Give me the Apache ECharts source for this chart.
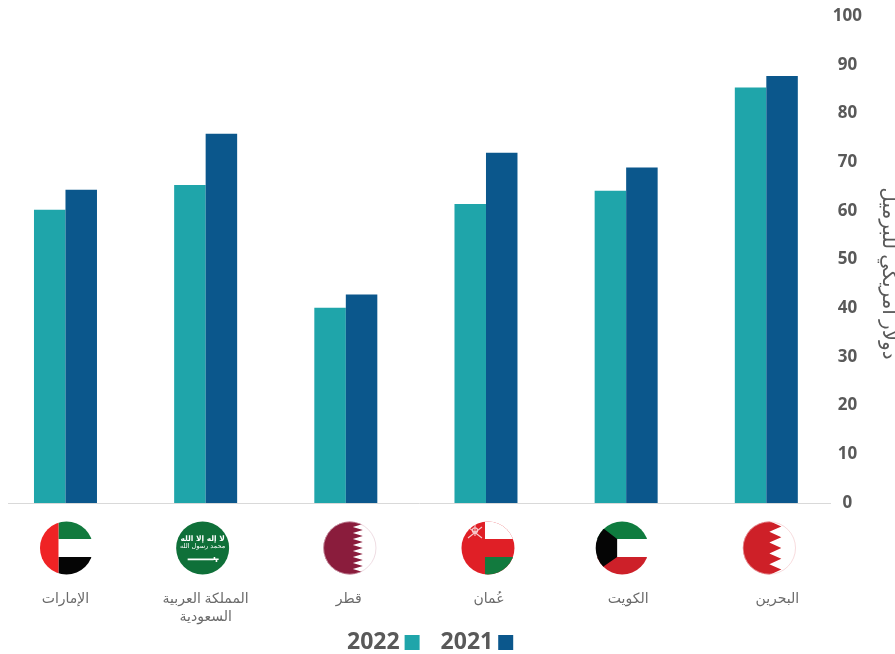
<!DOCTYPE html>
<html lang="ar">
<head>
<meta charset="utf-8">
<style>html,body{margin:0;padding:0;background:#fff}#chart{width:895px;height:654px}</style>
<script src="https://cdn.jsdelivr.net/npm/echarts@6/dist/echarts.min.js"></script>
</head>
<body>
<div id="chart"></div>
<script>
// Oil price by Gulf state, ordered as on the axis
const countries = ['الإمارات', 'المملكة العربية\nالسعودية', 'قطر', 'عُمان', 'الكويت', 'البحرين'];
const values2022 = [60.2, 65.3, 40.1, 61.4, 64.1, 85.3];
const values2021 = [64.3, 75.8, 42.8, 71.9, 68.9, 87.7];
const yTicks = { min: 0, max: 100, interval: 10 };
const seriesNames = ['2022', '2021'];
const axisTitle = 'دولار امريكي للبرميل';

// Horizontal nudges from each category centre
const labelShift = [0, 0, 3, 3, 2, 11];
const flagShift = [1, -3, 4, 2, -4, 3];

const FONT = '"Open Sans","Noto Sans","DejaVu Sans",sans-serif';
const ARABIC_FONT = '"Noto Sans","DejaVu Sans",sans-serif';

// Round flag badges: 54px box with a circle of radius 26.5
function badge(body, ring) {
  const edge = ring ? `<circle cx="27" cy="27" r="26.2" fill="none" stroke="${ring}" stroke-width=".6"/>` : '';
  const svg = `<svg xmlns="http://www.w3.org/2000/svg" width="54" height="54" viewBox="0 0 54 54">` +
    `<defs><clipPath id="c"><circle cx="27" cy="27" r="26.5"/></clipPath></defs>` +
    `<g clip-path="url(#c)">${body}</g>${edge}</svg>`;
  return 'data:image/svg+xml;charset=utf-8,' + encodeURIComponent(svg);
}
function serrated(color, base, tip, teeth) {
  const step = 54 / teeth;
  let pts = `0,0 ${base},0`;
  for (let i = 0; i < teeth; i++) {
    pts += ` ${tip},${(i + 0.5) * step} ${base},${(i + 1) * step}`;
  }
  pts += ' 0,54';
  return `<polygon points="${pts}" fill="${color}"/>`;
}
const flags = [
  badge('<rect width="54" height="18" x="19" fill="#127a3e"/><rect x="19" y="36" width="35" height="18" fill="#050505"/><rect width="19" height="54" fill="#ef2325"/>'),
  badge('<rect width="54" height="54" fill="#0f7039"/>' +
    '<text x="27" y="19.5" text-anchor="middle" font-family="DejaVu Sans" font-size="7.5" font-weight="bold" fill="#fff">لا إله إلا الله</text>' +
    '<text x="27" y="26.5" text-anchor="middle" font-family="DejaVu Sans" font-size="6.5" fill="#fff">محمد رسول الله</text>' +
    '<path d="M12 37.4H38V36h1.6v1.4h3.4v1.6h-1.4v2h-1.6v-2H38v.2H12z" fill="#fff"/>'),
  badge(serrated('#8a1c3c', 30, 40, 9), '#e3c5cf'),
  badge('<rect width="54" height="54" fill="#e01f26"/><rect x="24" y="0" width="30" height="18" fill="#fff"/><rect x="24" y="36" width="30" height="18" fill="#127a3e"/>' +
    '<g stroke="#f6c9cb" stroke-width="1.1" fill="none"><path d="M7 6L21 17M21 6L7 17M14 3V15"/><circle cx="14" cy="9.5" r="2.6"/></g>'),
  badge('<rect width="54" height="18" fill="#0f7c3f"/><rect y="36" width="54" height="18" fill="#cd2029"/><polygon points="0,0 9,8 22,18 22,36 9,45 0,54" fill="#050505"/>'),
  badge(serrated('#ce2028', 27, 39, 5), '#f1c4c7')
];

const chart = echarts.init(document.getElementById('chart'), null, { renderer: 'canvas' });

// One rich style per category so each name can carry its own shift
const labelRich = {};
labelShift.forEach((s, i) => {
  labelRich['n' + i] = {
    fontFamily: ARABIC_FONT, fontSize: 14, color: '#6a6a6a', lineHeight: 18,
    padding: s > 0 ? [0, 0, 0, s * 2] : [0, 0, 0, 0]
  };
});

const GRID = { left: -4.6, top: 16, width: 841, height: 487, outerBoundsMode: 'none' };

chart.setOption({
  backgroundColor: '#ffffff',
  animation: false,
  textStyle: { fontFamily: FONT },
  grid: GRID,
  legend: {
    data: seriesNames,
    left: 347, top: 631, padding: 0,
    align: 'right',
    itemWidth: 15, itemHeight: 15, itemGap: 21,
    icon: 'rect',
    textStyle: { fontFamily: FONT, fontSize: 23, fontWeight: 'bold', color: '#595959', padding: [0, 0, 0, 0] }
  },
  xAxis: {
    type: 'category',
    data: countries,
    axisLine: { show: false },
    axisTick: { show: false },
    splitLine: { show: false },
    axisLabel: {
      interval: 0,
      margin: 87,
      hideOverlap: false,
      rich: labelRich,
      formatter: function (value, index) {
        return value.split('\n').map(line => `{n${index}|${line}}`).join('\n');
      }
    }
  },
  yAxis: {
    type: 'value',
    position: 'right',
    min: yTicks.min, max: yTicks.max, interval: yTicks.interval,
    axisLine: { show: false },
    axisTick: { show: false },
    splitLine: { show: false },
    axisLabel: {
      margin: 11, align: 'center', padding: [2, 0, 0, 0],
      fontFamily: FONT, fontSize: 17, fontWeight: 'bold', color: '#595959'
    },
    name: axisTitle,
    nameLocation: 'middle',
    nameRotate: -90,
    nameGap: 42,
    nameTextStyle: { fontFamily: ARABIC_FONT, fontSize: 20, color: '#595959', padding: [28, 0, 0, 28] }
  },
  series: [
    { name: seriesNames[0], type: 'bar', data: values2022, barWidth: 31.5, barGap: 0, itemStyle: { color: '#1fa5aa' } },
    { name: seriesNames[1], type: 'bar', data: values2021, barWidth: 31.5, barGap: 0, itemStyle: { color: '#0b578c' } }
  ]
});

// Baseline and flags sit on the category centres reported by the axis
const baseY = chart.convertToPixel({ yAxisIndex: 0 }, 0);
const flagGraphics = flags.map((img, i) => ({
  type: 'image',
  x: chart.convertToPixel({ xAxisIndex: 0 }, i) + flagShift[i] - 27,
  y: baseY + 18,
  style: { image: img, width: 54, height: 54 }
}));
chart.setOption({
  graphic: [
    { type: 'line', z: 0, shape: { x1: 8, y1: baseY + 0.5, x2: 831, y2: baseY + 0.5 }, style: { stroke: '#d9d9d9', lineWidth: 1 } }
  ].concat(flagGraphics)
});
</script>
</body>
</html>
